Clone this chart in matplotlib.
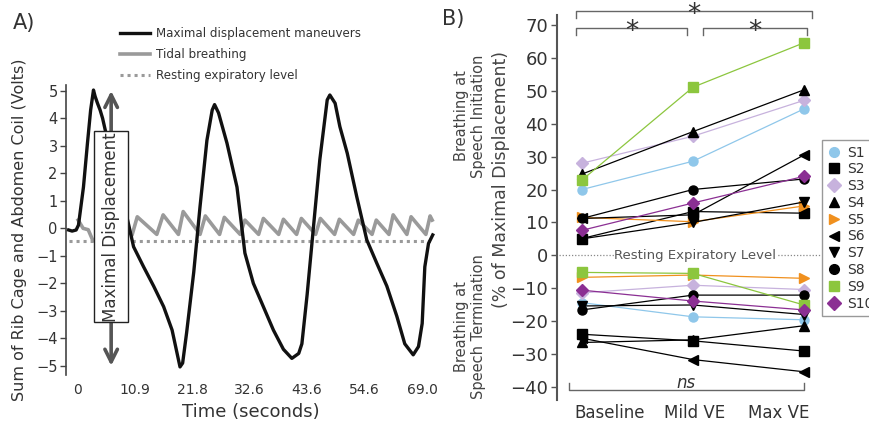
import matplotlib.pyplot as plt
import numpy as np
from matplotlib.lines import Line2D
from matplotlib.patches import Rectangle
from matplotlib.transforms import ScaledTranslation

# ---- panel A: traces (time in s, volts) ----
maneuver_t = [-1.61, -0.95, -0.19, 0.26, 1.20, 1.96, 2.56, 3.10, 3.41, 3.86, 4.36,
              4.83, 5.30, 7.1, 8.5, 9.57, 10.7, 12.6, 14.5, 16.4, 18.0, 18.95, 19.5,
              20.0, 20.75, 22.1, 23.3, 24.6, 25.6, 26.05, 26.8, 28.4, 30.3, 31.8,
              33.4, 35.3, 37.2, 39.1, 40.7, 42.0, 42.6, 43.6, 44.8, 46.0, 47.4,
              47.9, 48.9, 49.8, 51.2, 53.0, 54.9, 56.8, 58.7, 60.6, 62.1, 63.7,
              64.7, 65.4, 65.9, 66.6, 67.4]
maneuver_v = [-0.06, -0.10, -0.06, 0.12, 1.5, 3.1, 4.3, 5.03, 4.8, 4.55, 4.3,
              4.0, 3.6, 2.2, 1.1, 0.3, -0.67, -1.4, -2.1, -2.85, -3.7, -4.55, -5.04,
              -4.9, -3.8, -1.6, 0.8, 3.2, 4.3, 4.5, 4.2, 3.1, 1.5, -0.9,
              -2.0, -2.85, -3.7, -4.4, -4.73, -4.55, -4.2, -2.4, 0.06, 2.5, 4.67,
              4.85, 4.55, 3.7, 2.73, 1.15, -0.42, -1.27, -2.1, -3.2, -4.2, -4.6,
              -4.3, -3.46, -1.4, -0.55, -0.24]

tidal_t = [0.19, 1.14, 2.1, 3.0, 6.0, 9.7, 10.4,
           11.4, 15.1, 16.3, 19.2, 20.1, 23.3, 24.3, 27.0, 27.9, 30.9, 31.8, 34.4,
           35.3, 38.2, 39.1, 41.6, 42.5, 45.2, 46.1, 48.8, 49.7, 52.4, 53.3, 55.9,
           56.7, 59.1, 59.9, 62.5, 63.3, 66.1, 66.9, 67.3]
tidal_v = [0.3, 0.0, -0.05, -0.45, -0.2, -0.1, -0.25,
           0.42, -0.22, 0.49, -0.22, 0.61, -0.22, 0.45, -0.22, 0.40, -0.22, 0.30, -0.22,
           0.36, -0.22, 0.33, -0.22, 0.36, -0.22, 0.36, -0.22, 0.33, -0.22, 0.30, -0.22,
           0.30, -0.22, 0.49, -0.22, 0.42, -0.22, 0.45, 0.3]

resting_level = -0.45
time_ticks = [0, 10.9, 21.8, 32.7, 43.6, 54.5, 65.4]
time_labels = ["0", "10.9", "21.8", "32.6", "43.6", "54.6", "69.0"]
volt_ticks = [5, 4, 3, 2, 1, 0, -1, -2, -3, -4, -5]

# ---- panel B: % of maximal displacement ----
conditions = ["Baseline", "Mild VE", "Max VE"]
subjects = ["S1", "S2", "S3", "S4", "S5", "S6", "S7", "S8", "S9", "S10"]
initiation = [
    [20.0, 28.6, 44.5],
    [5.1, 13.3, 12.8],
    [28.0, 36.2, 47.1],
    [24.7, 37.6, 50.3],
    [11.5, 10.2, 15.0],
    [11.2, 12.3, 30.5],
    [5.0, 10.0, 16.2],
    [11.2, 20.0, 23.2],
    [22.9, 51.1, 64.6],
    [7.6, 15.9, 24.0],
]
termination = [
    [-14.4, -18.7, -19.6],
    [-24.0, -26.0, -29.1],
    [-11.4, -9.1, -10.4],
    [-26.5, -25.7, -21.4],
    [-6.7, -6.0, -7.0],
    [-25.2, -31.7, -35.4],
    [-15.4, -15.1, -18.0],
    [-16.6, -12.1, -12.1],
    [-5.2, -5.5, -15.1],
    [-10.6, -13.9, -16.6],
]
colors = ["#8fc7ea", "black", "#c7b2dd", "black", "#f0901e",
          "black", "black", "black", "#8cc63e", "#8b2f93"]
markers = ["o", "s", "D", "^", ">", "<", "v", "o", "s", "D"]

TEXT = "#333333"
plt.rcParams["font.family"] = ["DejaVu Sans"]

fig = plt.figure(figsize=(8.69, 4.22), dpi=100)

# ---------------- panel A ----------------
ax = fig.add_axes([0.076, 0.111, 0.425, 0.688])
ax.plot(maneuver_t, maneuver_v, color="#111111", lw=2.4, zorder=3,
        label="Maximal displacement maneuvers")
ax.plot(tidal_t, tidal_v, color="#9a9a9a", lw=2.6, zorder=2, label="Tidal breathing")
ax.plot([maneuver_t[0], maneuver_t[-1]], [resting_level, resting_level], ls=(0, (1, 1.3)),
        color="#9a9a9a", lw=2.2, zorder=2, label="Resting expiratory level")

ax.annotate("", xy=(6.45, 5.0), xytext=(6.45, -5.0),
            arrowprops=dict(arrowstyle="<->,head_length=0.9,head_width=0.45",
                            color="#555555", lw=2.6, shrinkA=0, shrinkB=0), zorder=4)
ax.add_patch(Rectangle((3.2, -3.41), 6.5, 6.95, facecolor="white",
                       edgecolor="#222222", lw=1.0, zorder=5))
ax.text(6.45, 0.06, "Maximal Displacement", rotation=90, ha="center", va="center",
        fontsize=12, color=TEXT, zorder=6)

ax.set_xlim(-2.1, 67.9)
ax.set_ylim(-5.34, 5.22)
ax.set_yticks(volt_ticks)
ax.set_xticks(time_ticks, time_labels)
ax.tick_params(axis="y", length=4, width=1, color="#444444", labelsize=10.5,
               labelcolor=TEXT, pad=2)
ax.tick_params(axis="x", length=0, labelsize=10, labelcolor=TEXT, pad=6)
for spine in ["top", "right", "bottom"]:
    ax.spines[spine].set_visible(False)
ax.spines["left"].set_color("#444444")
ax.spines["left"].set_linewidth(1.2)
ax.set_xlabel("Time (seconds)", fontsize=13, color=TEXT, labelpad=4)
fig.text(0.022, 0.455, "Sum of Rib Cage and Abdomen Coil (Volts)", rotation=90,
         ha="center", va="center", fontsize=11.5, color=TEXT)
ax.legend(loc="upper left", bbox_to_anchor=(0.133, 0.948), bbox_transform=fig.transFigure,
          frameon=False, fontsize=8.6, handlelength=2.5, handletextpad=0.45,
          labelspacing=0.68, borderaxespad=0, labelcolor=TEXT)
fig.text(0.028, 0.945, "A)", fontsize=15, color=TEXT, ha="center", va="center")

# ---------------- panel B ----------------
bx = fig.add_axes([0.6404, 0.052, 0.2976, 0.948])
x = np.arange(len(conditions))
for i, name in enumerate(subjects):
    for vals in (initiation[i], termination[i]):
        bx.plot(x, vals, color=colors[i], lw=0.9, marker=markers[i], ms=6.5,
                mfc=colors[i], mec=colors[i], zorder=3)

bx.set_xlim(-0.23, 2.1)
bx.set_ylim(-44.0, 77.6)
bx.set_yticks(np.arange(-40, 71, 10))
bx.set_xticks(x, conditions)
bx.tick_params(axis="y", length=4, width=1, color="#555555", labelsize=13,
               labelcolor=TEXT, pad=2)
bx.tick_params(axis="x", length=0, labelsize=12, labelcolor=TEXT, pad=3)
for spine in ["top", "right", "bottom"]:
    bx.spines[spine].set_visible(False)
bx.spines["left"].set_bounds(-44, 73)
bx.spines["left"].set_color("#555555")
bx.spines["left"].set_linewidth(1.5)

labels = bx.get_xticklabels()
for lab, ha, dx in zip(labels, ["left", "center", "right"], [-8, 2, 5]):
    lab.set_ha(ha)
    lab.set_transform(lab.get_transform() + ScaledTranslation(dx / 100, 0, fig.dpi_scale_trans))

# resting expiratory level
bx.plot([-0.21, 2.14], [0, 0], ls=(0, (1, 1.5)), color="#888888", lw=0.9,
        clip_on=False, zorder=1)
bx.text(1.02, 0, "Resting Expiratory Level", ha="center", va="center", fontsize=9.5,
        color="#555555", zorder=2,
        bbox=dict(facecolor="white", edgecolor="none", pad=0.5))


def bracket(x0, x1, y, leg, label, ty, italic=False, size=20):
    bx.plot([x0, x0, x1, x1], [y + leg, y, y, y + leg], color="#666666", lw=1.0,
            clip_on=False, zorder=2)
    bx.text((x0 + x1) / 2, ty, label, ha="center", va="baseline", fontsize=size,
            color=TEXT, style="italic" if italic else "normal", clip_on=False)


bracket(-0.05, 2.07, 74.4, -2.4, "*", 70.9, size=19)
bracket(-0.05, 0.95, 69.0, -2.1, "*", 65.8, size=19)
bracket(1.09, 2.03, 69.0, -2.1, "*", 65.8, size=19)
bracket(-0.12, 2.0, -40.8, 2.0, "ns", -40.2, italic=True, size=12)

# y labels
fig.text(0.541, 1 - 116 / 422, "Breathing at\nSpeech Initiation", rotation=90,
         ha="center", va="center", fontsize=10.5, color="#444444", linespacing=1.15)
fig.text(0.541, 1 - 327 / 422, "Breathing at\nSpeech Termination", rotation=90,
         ha="center", va="center", fontsize=10.5, color="#444444", linespacing=1.15)
fig.text(0.577, 1 - 180 / 422, "(% of Maximal Displacement)", rotation=90,
         ha="center", va="center", fontsize=12.5, color="#444444")
fig.text(0.522, 0.955, "B)", fontsize=15, color=TEXT, ha="center", va="center")

handles = [Line2D([], [], ls="none", marker=markers[i], ms=7, mfc=colors[i],
                  mec=colors[i]) for i in range(len(subjects))]
bx.legend(handles, subjects, loc="upper left", bbox_to_anchor=(822 / 869, 1 - 140 / 422),
          bbox_transform=fig.transFigure, fontsize=10, handlelength=0.9,
          handletextpad=0.5, labelspacing=0.2, borderpad=0.4, borderaxespad=0,
          fancybox=False, edgecolor="#999999", framealpha=1, labelcolor=TEXT)

fig.savefig("out.png", dpi=100)
